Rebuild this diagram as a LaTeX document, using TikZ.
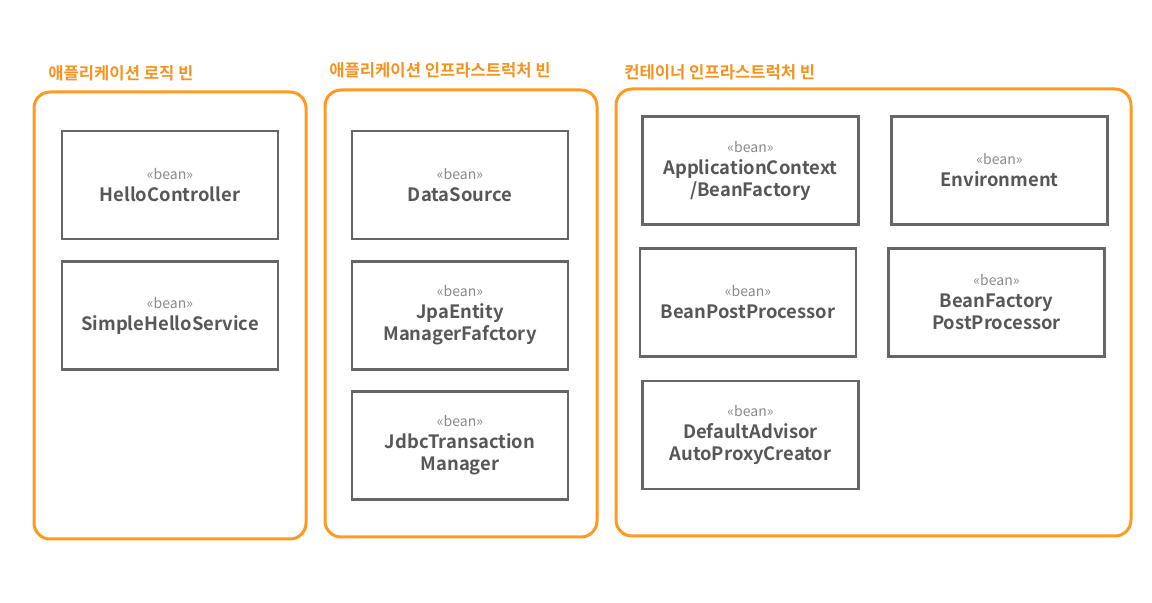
\documentclass[tikz,border=0pt]{standalone}
\usepackage{fontspec}
\setmainfont{Noto Sans CJK KR}[BoldFont={Noto Sans CJK KR Bold}]
\definecolor{boxorange}{HTML}{FF9A1F}
\definecolor{titleorange}{HTML}{F7921E}
\definecolor{beanline}{HTML}{666666}
\definecolor{beantext}{HTML}{575757}
\definecolor{stereo}{HTML}{8A8A8A}
\begin{document}
\begin{tikzpicture}[x=.5pt,y=-.5pt,
  group/.style={draw=boxorange,line width=1.5pt,rounded corners=8pt,minimum width=136pt,minimum height=223.5pt},
  grouptitle/.style={anchor=west,inner sep=0pt,text=titleorange,font=\fontsize{8.3}{10}\selectfont\bfseries},
  bean/.style={draw=beanline,line width=1.4pt,fill=white,minimum width=108pt,minimum height=54pt,align=center,
    text=beantext,font=\fontsize{9.2}{11}\selectfont\bfseries}]
\useasboundingbox (0,0) rectangle (1152,603);
% groups
\node[group] (logic) at (170,315.5) {};
\node[group] (appinfra) at (461,313.5) {};
\node[group,minimum width=257.5pt] (coninfra) at (873.5,312.5) {};
\node[grouptitle] (logictitle) at (48,73) {애플리케이션 로직 빈};
\node[grouptitle] (appinfratitle) at (329,70) {애플리케이션 인프라스트럭처 빈};
\node[grouptitle] (coninfratitle) at (624,72) {컨테이너 인프라스트럭처 빈};
% application logic beans
\node[bean] (hello) at (170,185) {{\fontsize{7}{10.5}\selectfont\mdseries\color{stereo}«bean»}\\HelloController};
\node[bean] (service) at (170,315.5) {{\fontsize{7}{10.5}\selectfont\mdseries\color{stereo}«bean»}\\SimpleHelloService};
% application infrastructure beans
\node[bean] (datasource) at (460,185) {{\fontsize{7}{10.5}\selectfont\mdseries\color{stereo}«bean»}\\DataSource};
\node[bean] (emf) at (460,315.5) {{\fontsize{7}{10.5}\selectfont\mdseries\color{stereo}«bean»}\\JpaEntity\\ManagerFafctory};
\node[bean] (txmanager) at (460,445.5) {{\fontsize{7}{10.5}\selectfont\mdseries\color{stereo}«bean»}\\JdbcTransaction\\Manager};
% container infrastructure beans
\node[bean] (context) at (750.5,170.5) {{\fontsize{7}{10.5}\selectfont\mdseries\color{stereo}«bean»}\\ApplicationContext\\/BeanFactory};
\node[bean] (environment) at (999.5,170.5) {{\fontsize{7}{10.5}\selectfont\mdseries\color{stereo}«bean»}\\Environment};
\node[bean] (bpp) at (748,302.5) {{\fontsize{7}{10.5}\selectfont\mdseries\color{stereo}«bean»}\\BeanPostProcessor};
\node[bean] (bfpp) at (996.5,302.5) {{\fontsize{7}{10.5}\selectfont\mdseries\color{stereo}«bean»}\\BeanFactory\\PostProcessor};
\node[bean] (autoproxy) at (750.5,435) {{\fontsize{7}{10.5}\selectfont\mdseries\color{stereo}«bean»}\\DefaultAdvisor\\AutoProxyCreator};
\end{tikzpicture}
\end{document}
